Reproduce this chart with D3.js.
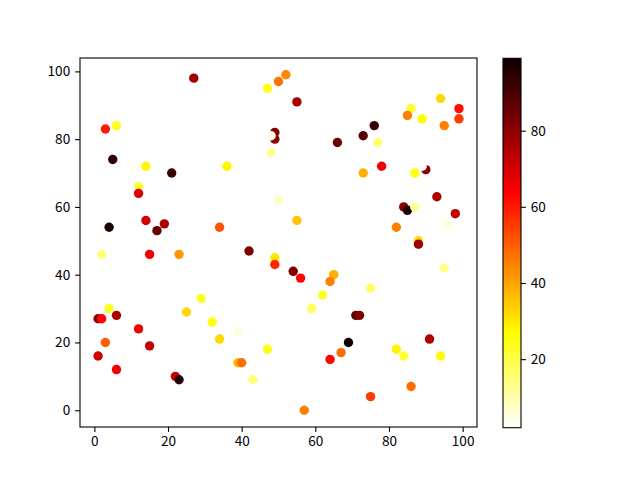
<!DOCTYPE html>
<html>
<head>
<meta charset="utf-8">
<script src="https://cdn.jsdelivr.net/npm/d3@7"></script>
<style>
  body { margin: 0; background: #fff; }
  svg text { font-family: "Microsoft YaHei", "Noto Sans CJK SC", "Noto Sans", sans-serif; }
</style>
</head>
<body>
<svg id="chart" width="640" height="480"></svg>
<script>
// scatter values
var xs = [27, 47, 50, 3, 6, 49, 49, 48, 48, 5, 11, 14, 21, 36, 12, 12, 50, 4, 14, 19,
          17, 34, 52, 55, 86, 85, 94, 99, 99, 89, 95, 76, 73, 66, 77, 78, 73, 87, 90, 89,
          55, 84, 85, 87, 93, 98, 96, 82, 88, 88, 2, 15, 23, 42, 49, 49, 4, 1, 2, 6,
          12, 3, 15, 1, 6, 22, 23, 25, 29, 32, 34, 39, 47, 39, 40, 43, 54, 56, 65, 64,
          62, 59, 75, 95, 71, 72, 69, 67, 64, 82, 84, 91, 94, 86, 75, 57];
var ys = [98, 95, 97, 83, 84, 82, 80, 81, 76, 74, 72, 72, 70, 72, 66, 64, 62, 54, 56, 55,
          53, 54, 99, 91, 89, 87, 92, 89, 86, 86, 84, 84, 81, 79, 79, 72, 70, 70, 71, 72,
          56, 60, 59, 60, 63, 58, 55, 54, 50, 49, 46, 46, 46, 47, 45, 43, 30, 27, 27, 28,
          24, 20, 19, 16, 12, 10, 9, 29, 33, 26, 21, 23, 18, 14, 14, 9, 41, 39, 40, 38,
          34, 30, 36, 42, 28, 28, 20, 17, 15, 18, 16, 21, 16, 7, 4, 0];
var cs = [78, 25, 47, 60, 24, 82, 80, 4, 12, 94, 3, 28, 92, 28, 22, 68, 8, 96, 70, 76,
          86, 52, 44, 76, 22, 45, 32, 62, 55, 27, 45, 92, 88, 85, 15, 65, 38, 25, 80, 2,
          35, 80, 97, 12, 76, 72, 5, 45, 32, 78, 15, 65, 42, 82, 30, 58, 23, 80, 63, 76,
          65, 50, 72, 70, 65, 72, 95, 32, 23, 25, 32, 5, 24, 38, 48, 15, 82, 63, 38, 45,
          23, 17, 17, 13, 87, 82, 99, 48, 63, 28, 22, 75, 27, 48, 55, 45];

var axisTicks = [0, 20, 40, 60, 80, 100];
var barTicks = [20, 40, 60, 80];

var svg = d3.select("#chart");
var fontSize = 13.6, tickLen = 4.9, tickPad = 4.9;

// matplotlib "hot" reversed
function hotR(t) {
  t = 1 - t;
  var r = t < 0.365079 ? 0.0416 + (1 - 0.0416) * t / 0.365079 : 1;
  var g = t < 0.365079 ? 0 : (t < 0.746032 ? (t - 0.365079) / (0.746032 - 0.365079) : 1);
  var b = t < 0.746032 ? 0 : (t - 0.746032) / (1 - 0.746032);
  return d3.rgb(r * 255, g * 255, b * 255).toString();
}

var cMin = d3.min(cs), cMax = d3.max(cs);
var color = d3.scaleSequential(hotR).domain([cMin, cMax]);

var plot = { left: 80, right: 477, top: 58, bottom: 427 };

// 5% margins like matplotlib autoscale
var x = d3.scaleLinear().domain([1 - 4.9, 99 + 4.9]).range([plot.left, plot.right]);
var y = d3.scaleLinear().domain([0 - 4.95, 99 + 4.95]).range([plot.bottom, plot.top]);

// points
svg.append("g").selectAll("circle")
  .data(xs.map(function(v, i){ return { x: v, y: ys[i], c: cs[i] }; }))
  .enter().append("circle")
  .attr("cx", function(d){ return x(d.x); })
  .attr("cy", function(d){ return y(d.y); })
  .attr("r", 4.7)
  .attr("fill", function(d){ return color(d.c); });

// axes
var xAxis = d3.axisBottom(x).tickValues(axisTicks).tickFormat(d3.format("d"))
  .tickSizeOuter(0).tickSize(tickLen).tickPadding(tickPad);
var yAxis = d3.axisLeft(y).tickValues(axisTicks).tickFormat(d3.format("d"))
  .tickSizeOuter(0).tickSize(tickLen).tickPadding(tickPad);

var gx = svg.append("g").attr("transform", "translate(0," + plot.bottom + ")").call(xAxis);
var gy = svg.append("g").attr("transform", "translate(" + plot.left + ",0)").call(yAxis);

// frame
svg.append("rect")
  .attr("x", plot.left).attr("y", plot.top)
  .attr("width", plot.right - plot.left).attr("height", plot.bottom - plot.top)
  .attr("fill", "none").attr("stroke", "#000").attr("stroke-width", 1.1);

// colorbar
var bar = { left: 503, right: 521, top: 58.3, bottom: 427.7 };
var cy = d3.scaleLinear().domain([cMin, cMax]).range([bar.bottom, bar.top]);

var grad = svg.append("defs").append("linearGradient")
  .attr("id", "cbar").attr("x1", 0).attr("y1", 1).attr("x2", 0).attr("y2", 0);
d3.range(0, 1.0001, 0.02).forEach(function(t){
  grad.append("stop").attr("offset", t).attr("stop-color", hotR(t));
});

svg.append("rect")
  .attr("x", bar.left).attr("y", bar.top)
  .attr("width", bar.right - bar.left).attr("height", bar.bottom - bar.top)
  .attr("fill", "url(#cbar)").attr("stroke", "#000").attr("stroke-width", 1.1);

var cAxis = d3.axisRight(cy).tickValues(barTicks).tickFormat(d3.format("d"))
  .tickSizeOuter(0).tickSize(tickLen).tickPadding(tickPad);
var gc = svg.append("g").attr("transform", "translate(" + bar.right + ",0)").call(cAxis);

[gx, gy, gc].forEach(function(g){
  g.select(".domain").remove();
  g.selectAll(".tick line").attr("stroke", "#000").attr("stroke-width", 1.1);
  g.selectAll(".tick text").attr("fill", "#000").style("font-size", fontSize + "px");
});
</script>
</body>
</html>
